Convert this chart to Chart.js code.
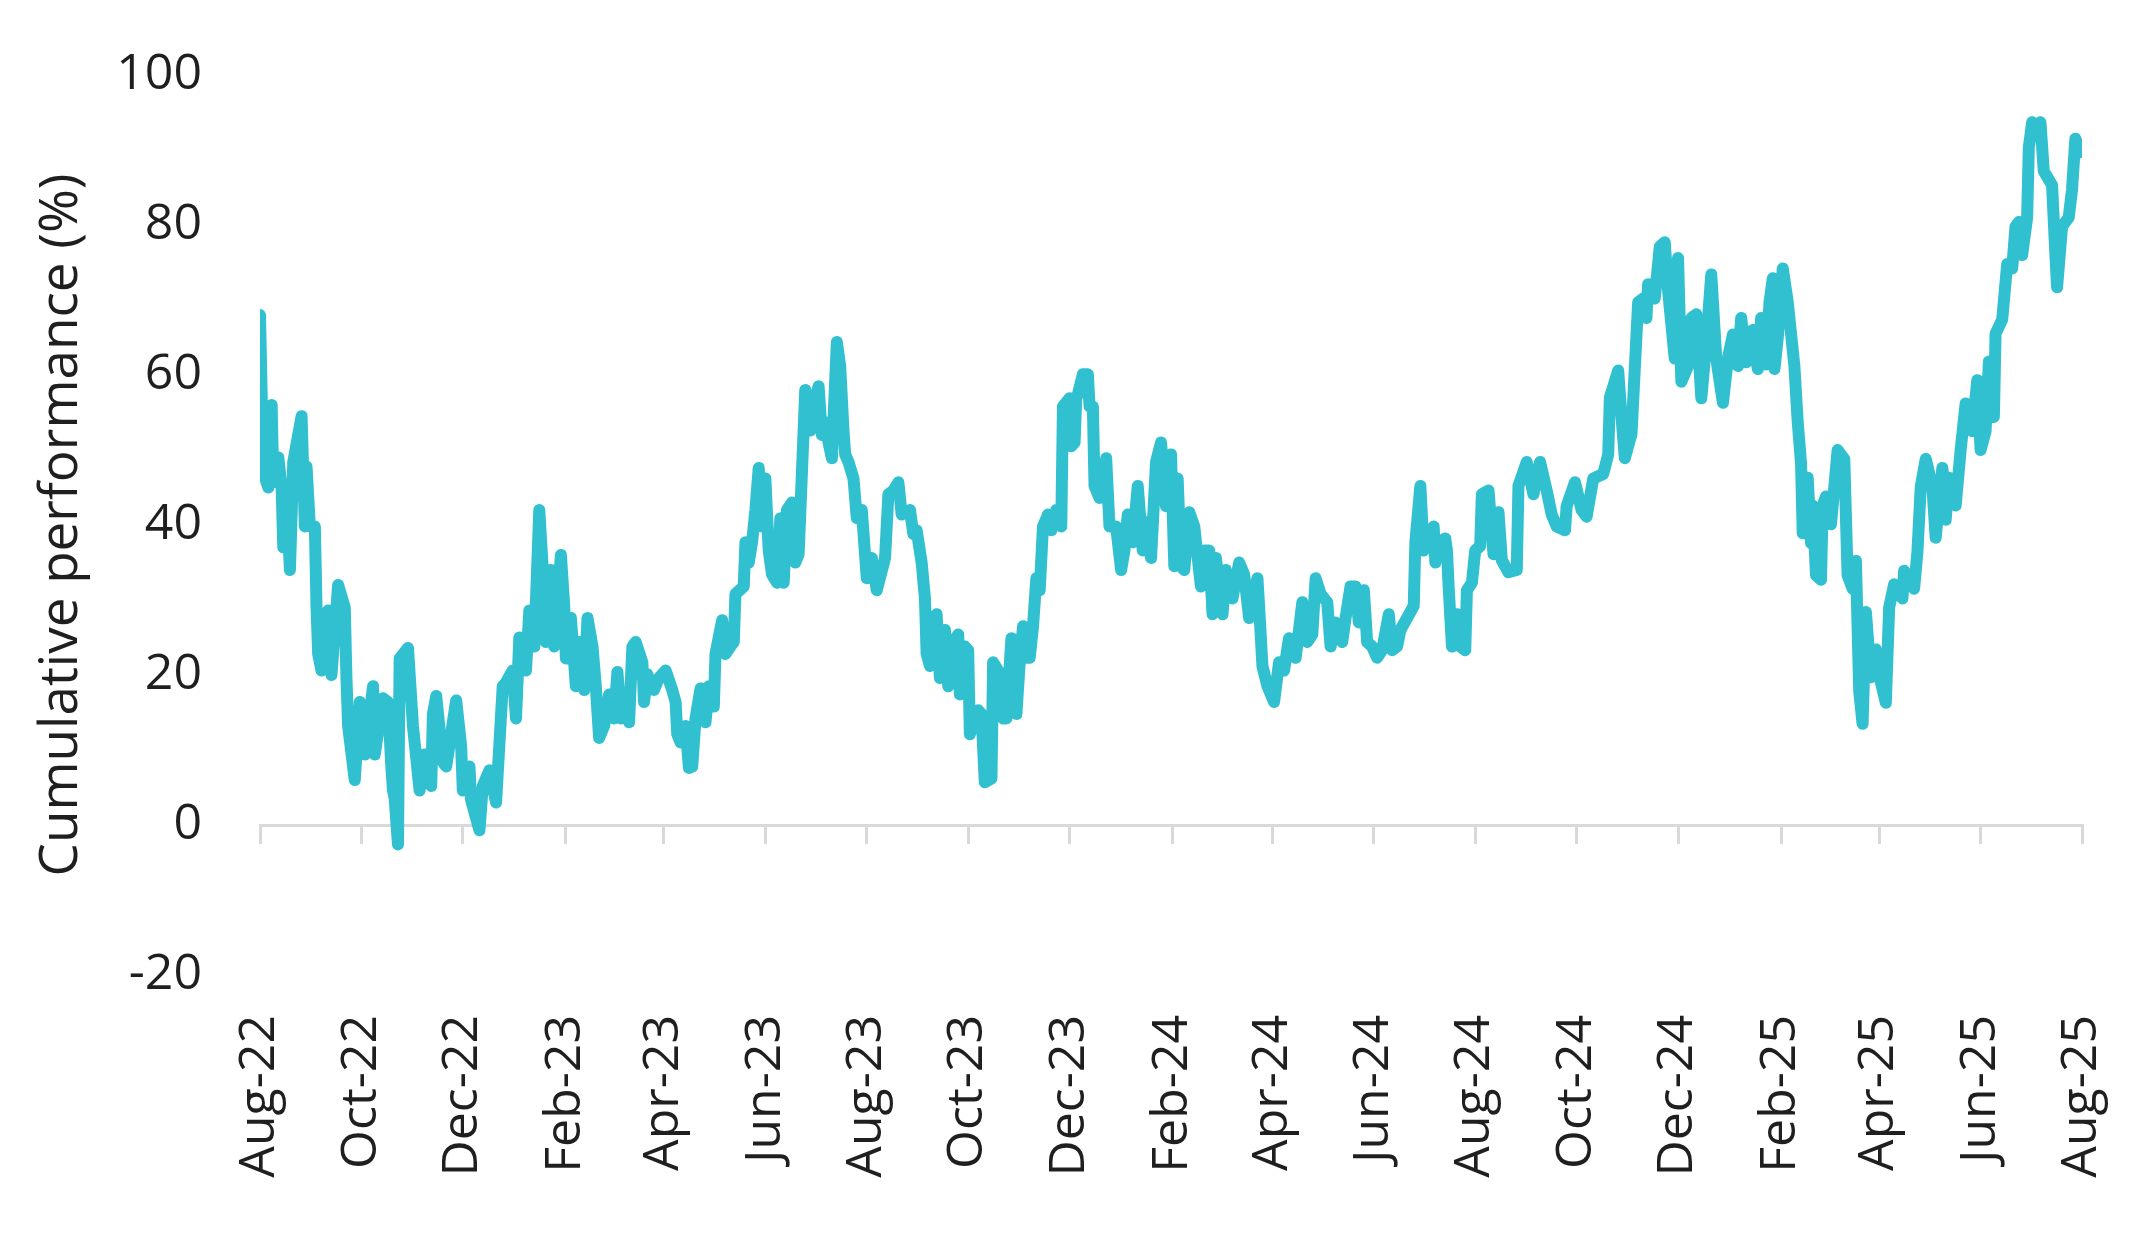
<!DOCTYPE html>
<html>
<head>
<meta charset="utf-8">
<script src="https://cdn.jsdelivr.net/npm/chart.js@4.4.1/dist/chart.umd.min.js"></script>
<style>
  html, body { margin: 0; padding: 0; background: #ffffff; }
  #wrap { position: relative; width: 2145px; height: 1237px; }
</style>
</head>
<body>
<div id="wrap"><canvas id="chart"></canvas></div>
<script>
// Month tick labels (every two months, first day of month)
const tickLabels = ['Aug-22','Oct-22','Dec-22','Feb-23','Apr-23','Jun-23','Aug-23','Oct-23','Dec-23','Feb-24','Apr-24','Jun-24','Aug-24','Oct-24','Dec-24','Feb-25','Apr-25','Jun-25','Aug-25'];

// Observation dates, as days since 1 Aug 2022
const daysSinceStart = [
  0,2,5,7,8,11,13,14,16,18,20,25,27,28,30,33,34,35,37,41,43,47,51,52,53,57,60,63,68,69,74,77,79,80,81,83,84,89,92,96,99,103,104,106,110,112,118,121,122,126,127,132,134,138,142,146,148,152,154,156,160,162,165,168,170,172,175,177,181,183,184,187,190,
  192,195,197,200,202,204,207,210,213,215,217,220,222,224,226,230,231,233,237,240,244,248,250,251,253,256,258,260,262,265,268,270,273,274,278,280,283,285,286,291,292,294,296,298,300,302,304,306,308,311,313,315,317,320,322,324,328,331,334,336,338,340,342,344,347,349,351,352,354,357,359,362,365,368,371,
  376,378,381,384,386,391,393,395,398,400,401,403,407,409,412,414,417,420,421,424,426,427,432,434,436,440,441,444,447,449,452,455,457,459,461,463,465,467,469,471,474,476,479,482,483,487,488,490,491,492,495,498,499,501,502,505,509,511,515,518,520,522,525,528,531,534,536,539,542,545,548,550,552,554,556,559,
  562,566,568,571,573,575,579,581,585,589,592,595,597,600,601,603,606,610,613,616,619,623,627,630,633,635,638,642,644,647,651,653,656,659,661,664,666,669,672,675,679,681,684,686,690,694,695,698,700,703,706,707,709,713,714,715,717,720,722,725,726,729,731,734,735,739,742,745,
  747,751,756,757,762,766,770,774,777,780,785,786,791,795,798,802,808,811,812,817,819,821,825,829,832,834,835,839,842,845,847,851,853,855,859,861,864,867,870,873,876,880,883,886,889,891,894,898,901,903,906,908,910,911,913,916,919,
  923,925,927,928,931,933,934,936,939,940,942,945,949,953,955,958,960,962,964,966,969,972,975,978,980,983,988,989,995,997,999,1002,1006,1008,1012,1014,1016,1020,1023,1026,1030,1033,1035,1038,1040,1043,1044,1048,1051,1054,1056,1058,1060,1063,1064,1066,1069,1071,1073,1078,1080,1081,1084,1088,1090,1092,1095,1098
];

// Cumulative performance (%)
const cumulativePerformance = [
  68,47,45,56,45.7,49,45,37,44,34,48.4,54.5,39.8,47.8,39.8,39.8,29,22.8,20.6,28.6,20,32,29,19.6,13.2,6,16.4,9.4,18.5,9.4,16.9,16.4,7.8,4.6,3.6,-2.6,22.2,23.6,13.2,4.6,9.4,5.2,14.8,17.2,8.4,7.8,16.6,10.5,4.6,7.8,3.3,-0.7,5.2,7.3,3,18.5,19,20.6,14.2,25,20.6,28.6,23.8,42,34.5,24.4,34,23.8,36,29.2,22.2,27.6,18.5,
  24.4,18,27.6,23.8,18.5,11.6,13.2,17.4,14.2,20.4,14.2,17.4,13.7,23.8,24.4,21.7,16.4,20.1,18,19.6,20.6,18,16.4,12.1,11,13.2,7.6,7.8,14.2,18.2,13.7,18.5,15.8,22.8,27.3,22.8,23.8,24.4,30.8,31.8,37.7,35,37.7,42,47.6,39.8,46.2,36.6,33.4,32.3,40.9,32.3,42,43,35,36.1,58,52.6,56.9,58.5,52,53.7,51,48.9,64.4,61.2,52.6,49.4,48.4,46.2,40.9,42,32.9,35.6,31.3,
  35.6,44.1,44.6,45.7,41.4,42,38.8,39.3,35,30.2,22.8,21.2,28.1,19.6,26,18.5,24.4,25.4,17.4,23.8,23.3,12.1,15.3,14.8,5.7,6.2,21.7,20.6,14.2,14.2,24.9,14.8,21.7,26.5,22.3,22.3,26.5,32.9,31.3,39.8,41.4,39.3,42,39.8,55.8,56.9,50.5,51,56.9,57.4,60.1,60.1,55.8,55.8,45.2,43.6,48.9,39.8,39.8,34,36.6,41.4,37.7,45.2,36.6,40.4,35.6,48.4,51,42.5,49.4,34.5,46.2,34.5,34,41.7,
  39.8,31.8,36.6,36.6,28.1,35.6,28.1,34,30.2,35,33.4,27.6,30.2,32.9,29.2,21.2,18.5,16.4,21.7,20.6,24.9,22.3,29.7,24.4,25.4,32.9,30.8,29.7,23.8,27,24.4,27.6,31.8,31.8,27,31.3,24.4,23.8,22.3,23.3,28.1,23.3,23.8,26,27.6,29.2,37.7,45.2,36.6,38.2,39.8,35,37.7,38.2,36.6,31.8,23.8,28.1,23.8,23.3,31.3,32.3,36.6,37.2,44.1,44.6,36.1,41.7,
  35.3,33.7,34,45.2,48.4,44.1,48.4,44.6,41.4,39.8,39.3,42.5,45.7,42,41.1,46.2,46.8,49.4,57,60.6,54.4,48.9,52.1,69.7,70.2,67.6,72.1,70.2,77.1,77.7,71.3,62.2,75.6,59.1,61.2,67.6,68.1,56.9,64.4,73.4,62.2,56.3,62.2,65.4,61.2,67.6,61.7,66,60.8,67.6,61.4,69.7,72.9,60.8,65,74.2,69.7,
  61.2,53.7,48.2,38.9,46.3,37.6,42.6,33.3,32.7,42.6,43.8,40.1,50,48.8,33.3,31.5,35.2,17.8,13.5,28.4,19.7,23.4,19.1,16.3,29,32.1,30.2,33.9,31.5,36.4,45.1,48.8,45.1,38.3,47.6,40.7,46.3,42.6,50,56.2,52.5,59.3,50,52.5,61.8,54.4,65.5,67.4,74.8,74.2,79.8,80.4,76,81,90.3,93.7,93.1,93.7,87.2,85.3,76,71.7,79.8,81,84.7,91.5,89.7,90.9
];

const yTicks = { min: -20, max: 100, step: 20 };

const monthIndex = {Jan:0,Feb:1,Mar:2,Apr:3,May:4,Jun:5,Jul:6,Aug:7,Sep:8,Oct:9,Nov:10,Dec:11};
const startUTC = Date.UTC(2022, 7, 1);
const tickDays = tickLabels.map(l => {
  const [m, y] = l.split('-');
  return Math.round((Date.UTC(2000 + Number(y), monthIndex[m], 1) - startUTC) / 86400000);
});

const points = daysSinceStart.map((d, i) => ({ x: d, y: cumulativePerformance[i] }));

const FONT = "'Open Sans', 'Noto Sans', sans-serif";
const TEXT = '#1f1f1f';
const AXIS_GREY = '#d9d9d9';
const setTicks = s => { s.ticks = tickDays.map(v => ({ value: v })); };
const noPad = s => { s.paddingLeft = 0; s.paddingRight = 0; s.paddingTop = 0; s.paddingBottom = 0; };

new Chart(document.getElementById('chart'), {
  type: 'line',
  data: {
    datasets: [{
      data: points,
      xAxisID: 'x',
      yAxisID: 'y',
      borderColor: '#31c0cf',
      backgroundColor: '#31c0cf',
      borderWidth: 12,
      pointRadius: 0,
      tension: 0,
      borderJoinStyle: 'round',
      borderCapStyle: 'round',
      fill: false
    }]
  },
  options: {
    responsive: true,
    maintainAspectRatio: false,
    animation: false,
    layout: { padding: { top: 75, right: 63, bottom: 0, left: 0 } },
    plugins: { legend: { display: false }, tooltip: { enabled: false } },
    scales: {
      x: {
        type: 'linear',
        position: 'bottom',
        min: tickDays[0],
        max: tickDays[tickDays.length - 1],
        afterBuildTicks: setTicks,
        afterFit: s => { s.height = 262; noPad(s); },
        grid: { display: false, drawTicks: false },
        border: { display: false },
        ticks: {
          autoSkip: false,
          minRotation: 90,
          maxRotation: 90,
          padding: 40,
          color: TEXT,
          font: { family: FONT, size: 50 },
          callback: (v, i) => tickLabels[i]
        }
      },
      x2: {
        type: 'linear',
        position: { y: 0 },
        min: tickDays[0],
        max: tickDays[tickDays.length - 1],
        afterBuildTicks: setTicks,
        afterFit: noPad,
        grid: { drawOnChartArea: false, drawTicks: true, tickLength: 17, color: AXIS_GREY, lineWidth: 3 },
        border: { display: true, color: AXIS_GREY, width: 3 },
        ticks: { display: false }
      },
      y: {
        type: 'linear',
        position: 'left',
        min: yTicks.min,
        max: yTicks.max,
        afterFit: s => { s.width = 260; noPad(s); },
        grid: { display: false, drawTicks: false },
        border: { display: false },
        ticks: {
          stepSize: yTicks.step,
          padding: 58,
          color: TEXT,
          font: { family: FONT, size: 50 }
        },
        title: {
          display: true,
          text: 'Cumulative performance (%)',
          color: TEXT,
          font: { family: FONT, size: 53 },
          padding: { top: 30, bottom: 0 }
        }
      }
    }
  }
});
</script>
</body>
</html>
